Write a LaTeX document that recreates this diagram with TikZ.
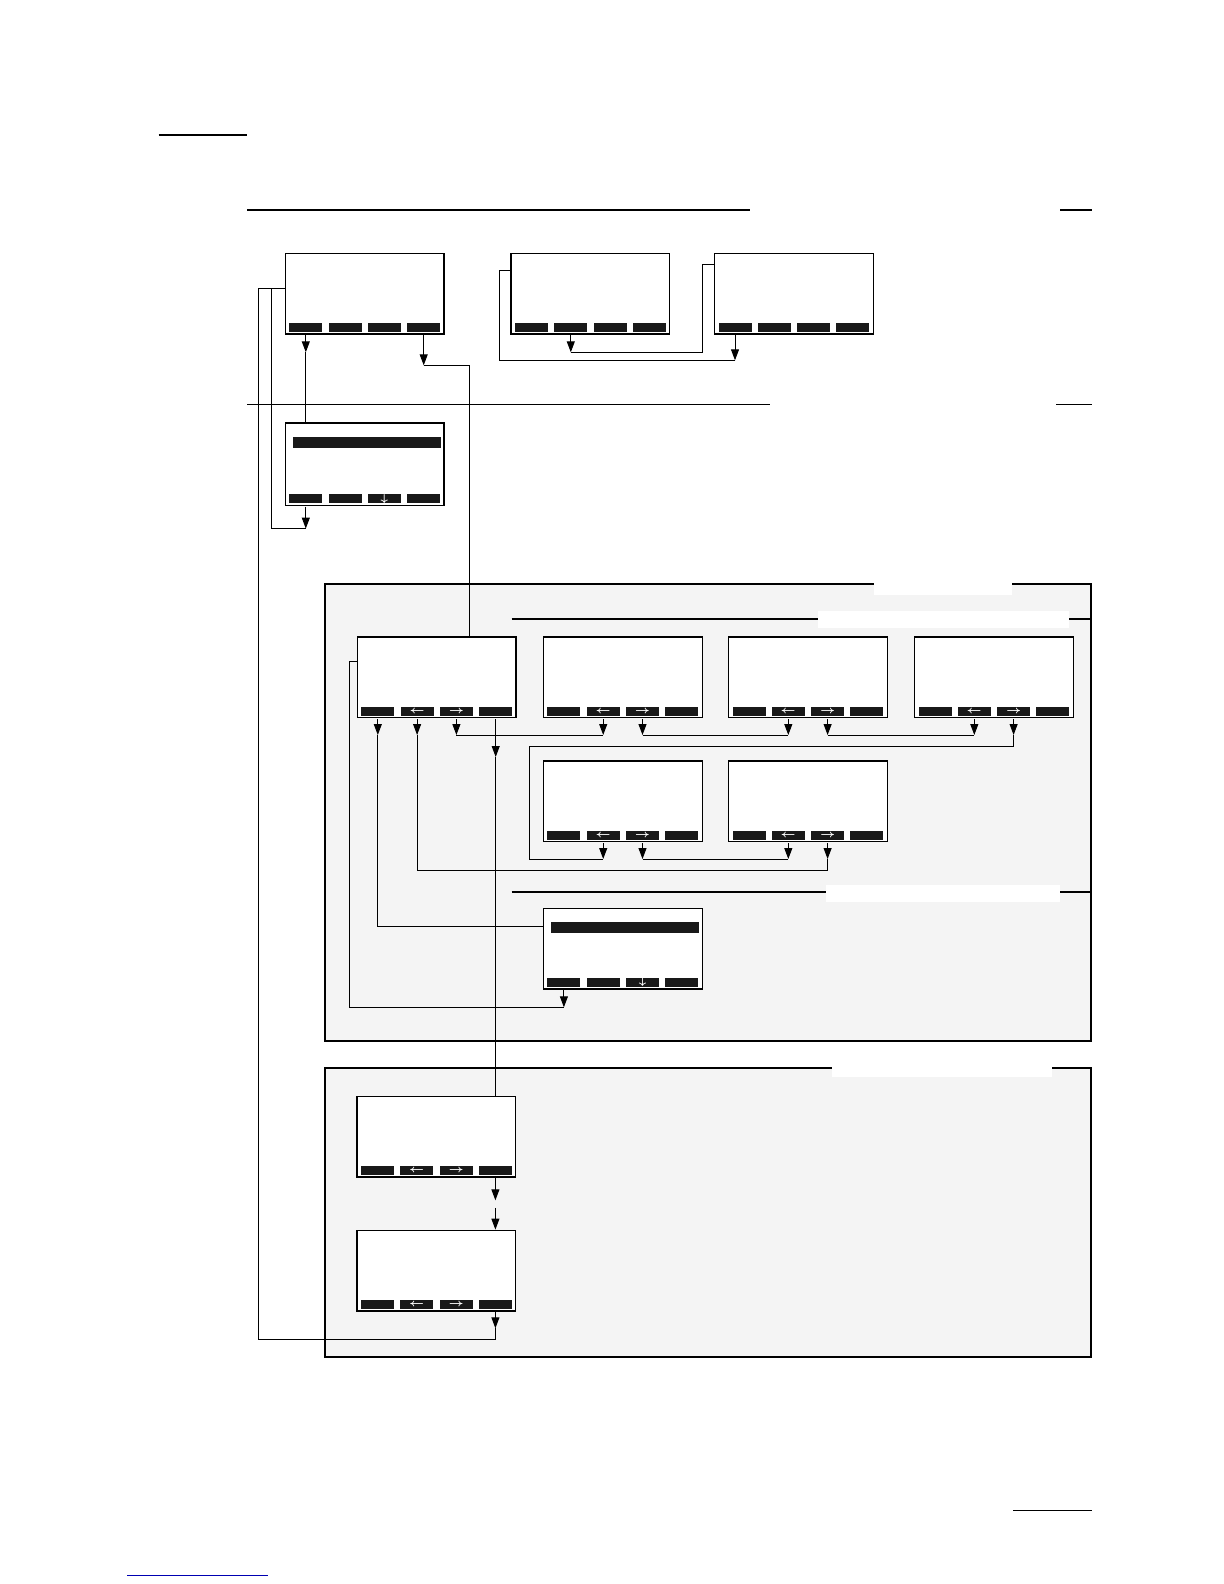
\documentclass[tikz,border=0pt]{standalone}
\usepackage{amsmath,amssymb}
\usepackage{tikz}
\usepackage{xcolor}
\usetikzlibrary{arrows.meta,calc,positioning}

\definecolor{panelgray}{gray}{0.955}
\definecolor{keyblack}{gray}{0.1}

\begin{document}
\begin{tikzpicture}[x=0.5pt,y=-0.5pt,line width=0.5pt,
    screen/.style={draw,line width=0.6pt,fill=white,minimum width=79.4pt,minimum height=40.4pt,inner sep=0pt,anchor=north west},
    softkey/.style={fill=keyblack,minimum width=16.5pt,minimum height=4.5pt,inner sep=0pt},
    keysign/.style={text=white,font=\tiny,inner sep=0pt},
    arr/.style={-{Triangle[length=5.5pt,width=4pt]}}]
\useasboundingbox (0,0) rectangle (1224,1584);
            % page rules
            \draw[line width=1.1pt] (158.5,135)--(246.5,135);
            \draw[line width=0.7pt] (247,210)--(750,210) (1060,210)--(1092,210);
            \draw[line width=0.7pt] (247,404.5)--(770,404.5) (1056,404.5)--(1092,404.5);
            \draw (1013,1510)--(1092,1510);
            \draw[blue!70!black] (127,1575)--(268,1575);
            % shaded panels
            \draw[fill=panelgray,line width=0.6pt] (325,584) rectangle (1091,1041);
            \fill[white] (874,581) rectangle (1012,595);
            \draw[line width=0.6pt] (511.5,619)--(1091,619);
            \fill[white] (817.5,611) rectangle (1069,628);
            \draw[line width=0.6pt] (511.5,892)--(1091,892);
            \fill[white] (826,885) rectangle (1060,902);
            \draw[fill=panelgray,line width=0.6pt] (325,1068) rectangle (1091,1357);
            \fill[white] (832,1065) rectangle (1052,1077);
            % screens with four soft keys
            \foreach \s/\x/\y/\h in {home/284.6/252.6/40.4, opta/510.3/252.6/40.4, optb/713.8/252.6/40.4, list/284.6/422.3/41.2,
                pga/356.6/636.3/40.4, pgb/542.7/636.3/40.4, pgc/727.8/636.3/40.4, pgd/913.8/636.3/40.4, pge/542.7/760.3/40.4, pgf/727.8/760.3/40.4,
                pick/542.7/907.6/40.4, outa/356.3/1095.6/40.4, outb/356.3/1229.6/40.4} {
                \node[screen,minimum height=\h pt] (\s) at (\x,\y) {};
                \foreach \k in {1,...,4}
                    \node[softkey] (\s k\k) at ($(\s.south west)+({21.2+39.3*(\k-1)},-7.3)$) {};
            }
            \foreach \s in {pga,pgb,pgc,pgd,pge,pgf,outa,outb} {
                \node[keysign] (\s L) at (\s k2) {$\boldsymbol{\leftarrow}$};
                \node[keysign] (\s R) at (\s k3) {$\boldsymbol{\rightarrow}$};
            }
            \foreach \s in {list,pick} {
                \fill[keyblack] ($(\s.north west)+(8.7,14.7)$) rectangle ($(\s.north east)+(-3.7,25.7)$);
                \node[keysign] (\s D) at (\s k3) {$\boldsymbol{\downarrow}$};
            }
            % arrows out of the soft keys
            \foreach \k/\l/\t in {homek1/17/e1, homek4/30/e2, optak2/17/e3, optbk1/25/e4, listk1/22/e5,
                pgak1/16/e6, pgak2/16/e7, pgak3/16/e8, pgak4/38/e9, pgbk2/16/e10, pgbk3/16/e11,
                pgck2/16/e12, pgck3/16/e13, pgdk2/16/e14, pgdk3/16/e15, pgek2/16/e16, pgek3/16/e17,
                pgfk2/16/e18, pgfk3/16/e19, pickk1/17/e20, outak4/22/e21, outbk4/16/e22}
                \draw[arr] ($(\k.south)+(0,3)$) -- ++(0,\l) coordinate (\t);
            % lines on from the arrows
            \draw (e1) -- (e1 |- list.north);
            \draw (e2) -| ($(pga.north west)+(112.4,0)$);
            \draw (e3) -| ($(optb.north west)+(-11.8,11.7)$) -- ($(optb.north west)+(0,11.7)$);
            \draw (e4) -| ($(opta.north west)+(-11.3,17.7)$) -- ($(opta.north west)+(0,17.7)$);
            \draw (e5) -| ($(home.north west)+(-13.6,35.7)$) -- ($(home.north west)+(0,35.7)$);
            \draw (e22) -- ++(0,11) -| ($(home.north west)+(-26.6,35.7)$) -- ($(home.north west)+(0,35.7)$);
            \draw (e6) |- ($(pick.north west)+(0,19.3)$);
            \draw (e7) |- ($(e19)+(0,11)$) -- (e19);
            \draw (e8) -- (e10);
            \draw (e11) -- (e12);
            \draw (e13) -- (e14);
            \draw (e15) -- ++(0,11) -| ($(e16)+(-74,0)$) -- (e16);
            \draw (e17) -- (e18);
            \draw (e9) -- (e9 |- outa.north);
            \draw (e20) -| ($(pga.north west)+(-7.6,24.7)$) -- ($(pga.north west)+(0,24.7)$);
            %\draw (e21) -- (e21 |- outb.north);
            \draw[arr] ($(e21)+(0,7.5)$) -- (e21 |- outb.north);
\end{tikzpicture}
\end{document}
